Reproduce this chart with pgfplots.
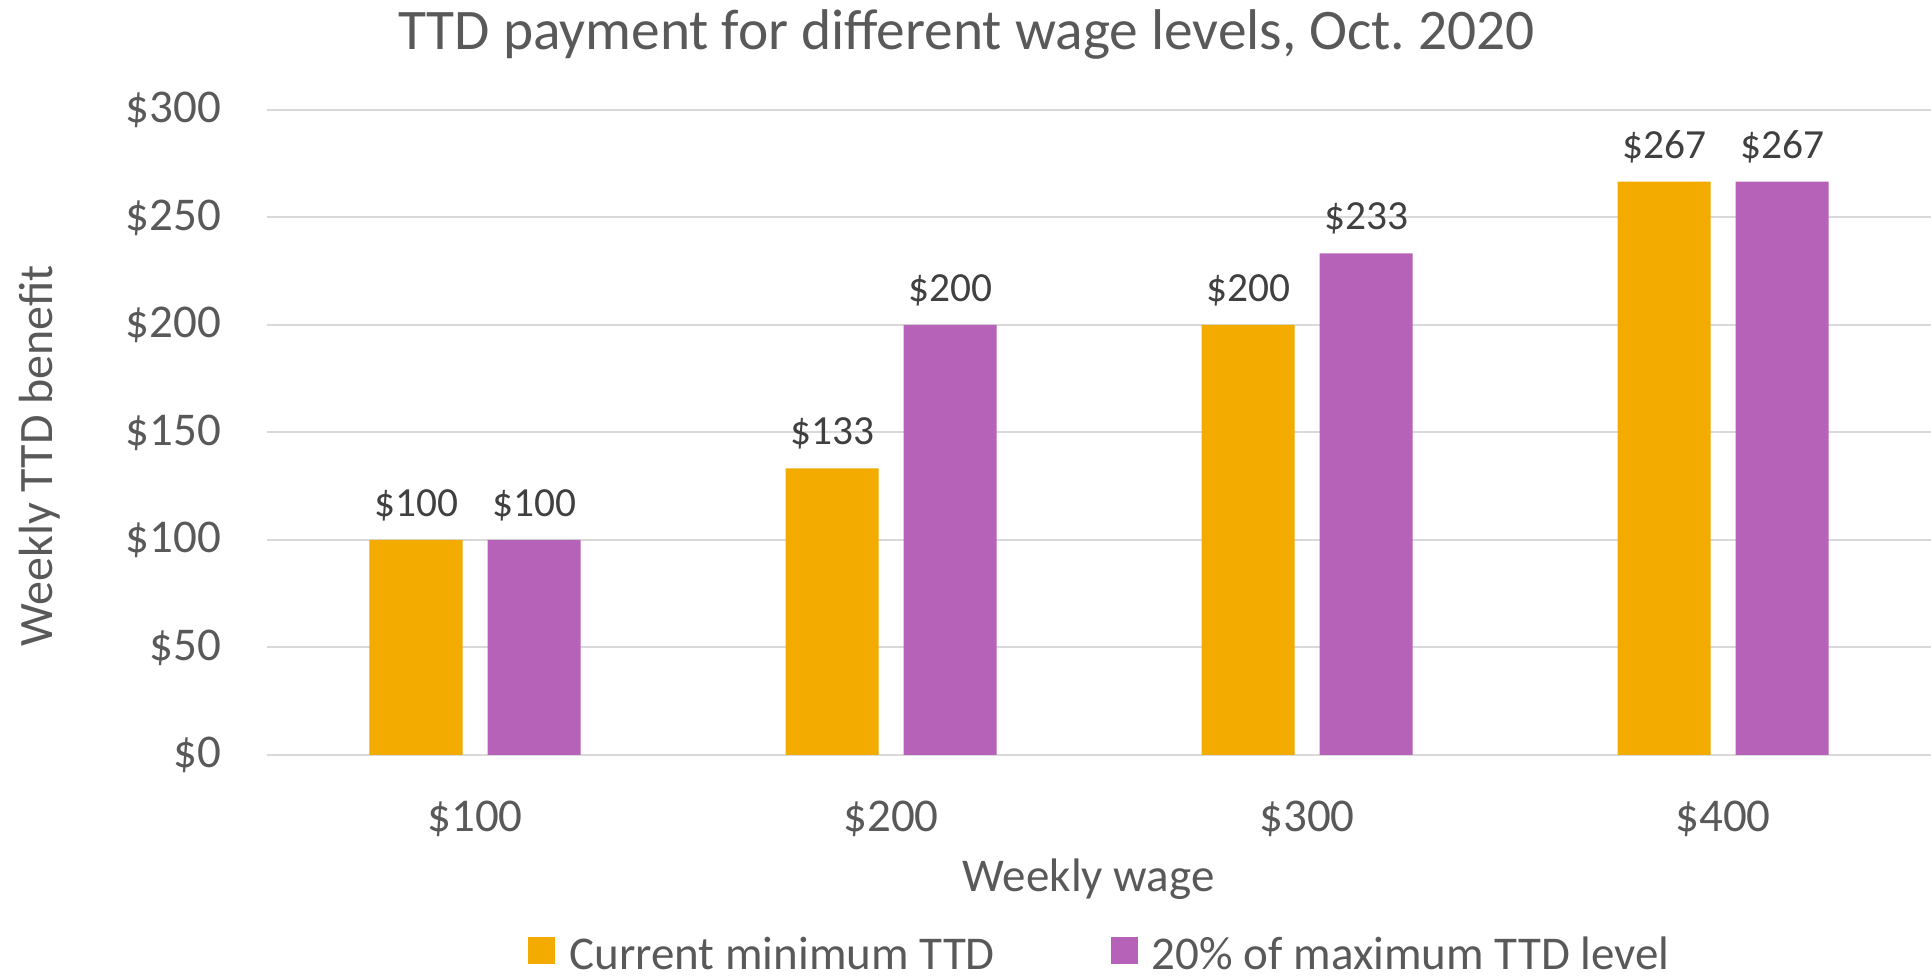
\documentclass[border=0pt]{standalone}
\usepackage{fontspec}
\setmainfont{Carlito}
\usepackage{pgfplots}
\pgfplotsset{compat=1.18}
\definecolor{barorange}{HTML}{F3AB00}
\definecolor{barpurple}{HTML}{B762B9}
\definecolor{txtgray}{HTML}{595959}
\definecolor{lblgray}{HTML}{404040}
\definecolor{gridgray}{HTML}{D9D9D9}
\begin{document}
\begin{tikzpicture}
\path[use as bounding box] (-133.5pt,-111pt) rectangle (832pt,377.5pt);
\begin{axis}[
  scale only axis, width=832pt, height=322.5pt,
  xmin=-0.5, xmax=3.5, ymin=0, ymax=300,
  ybar=12.5pt, bar width=46.5pt,
  axis line style={draw=none},
  major tick length=0pt,
  ymajorgrids, grid style={gridgray, line width=1pt},
  ytick={0,50,...,300},
  xtick={0,1,2,3}, xticklabels={\$100,\$200,\$300,\$400},
  yticklabel={\$\pgfmathprintnumber{\tick}},
  /pgf/number format/assume math mode=true,
  tick label style={font=\fontsize{23.5}{28}\selectfont, text=txtgray, inner sep=0pt},
  yticklabel style={anchor=east, xshift=-22.7pt},
  xticklabel style={anchor=base, yshift=-38.5pt},
  title={TTD payment for different wage levels, Oct.\ 2020},
  title style={font=\fontsize{28.7}{34}\selectfont, text=txtgray, at={(axis description cs:0.4204,1.075)}, anchor=base, inner sep=0pt},
  xlabel={Weekly wage},
  xlabel style={font=\fontsize{23.5}{28}\selectfont, text=txtgray, at={(axis description cs:0.4937,0)}, anchor=base, yshift=-68.5pt, inner sep=0pt},
  ylabel={Weekly TTD benefit},
  ylabel style={font=\fontsize{24}{28}\selectfont, text=txtgray, at={(axis description cs:-0.1292,0.4636)}, anchor=base, inner sep=0pt},
  nodes near coords={\$\pgfmathprintnumber[fixed,precision=0]{\pgfplotspointmeta}},
  nodes near coords style={font=\fontsize{20.7}{24}\selectfont, text=lblgray, anchor=base, yshift=11.7pt, inner sep=0pt},
  legend columns=2,
  legend style={draw=none, fill=none, at={(axis description cs:0.5,-0.3093)}, anchor=center,
    font=\fontsize{23.5}{28}\selectfont, text=txtgray,
    nodes={inner sep=0pt},
    /tikz/every odd column/.append style={column sep=7pt},
    /tikz/every even column/.append style={column sep=58pt}},
  legend image code/.code={\fill[#1] (0pt,-4.75pt) rectangle (13.5pt,8.75pt);},
]
\addplot[fill=barorange, draw=none] coordinates {(0,100) (1,133.33) (2,200) (3,266.67)};
\addplot[fill=barpurple, draw=none] coordinates {(0,100) (1,200) (2,233.33) (3,266.67)};
\legend{Current minimum TTD, 20\% of maximum TTD level}
\end{axis}
\end{tikzpicture}
\end{document}
